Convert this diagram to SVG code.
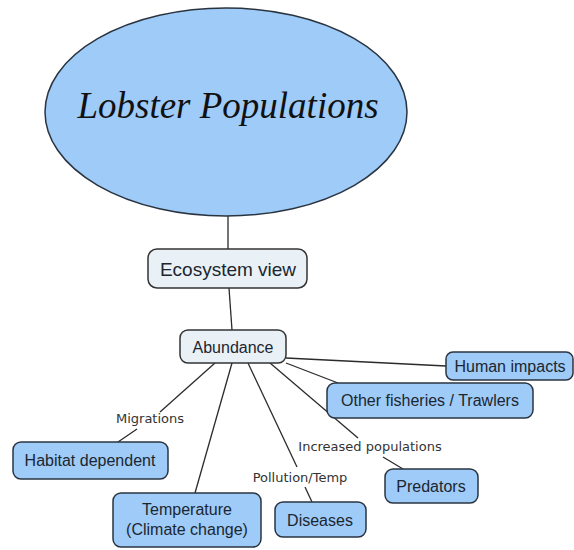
<svg xmlns="http://www.w3.org/2000/svg" width="574" height="550" viewBox="0 0 574 550">
<style>
.lnk{stroke:#2b2b2b;stroke-width:1.3;fill:none}
.pale{fill:#e9f1f6;stroke:#333;stroke-width:1.5}
.blue{fill:#9ecbf8;stroke:#2a3440;stroke-width:1.5}
.t{font-family:"Liberation Sans",Arial,sans-serif;fill:#1c2630;text-anchor:middle}
.lab{font-family:"DejaVu Sans","Liberation Sans",sans-serif;font-size:13px;fill:#333;text-anchor:middle}
</style>
<rect width="574" height="550" fill="#ffffff"/>
<g id="connectors">
<line class="lnk" x1="228" y1="216" x2="228" y2="249"/>
<line class="lnk" x1="229" y1="288" x2="232" y2="330"/>
<line class="lnk" x1="286" y1="358" x2="446" y2="366"/>
<line class="lnk" x1="286" y1="363" x2="338" y2="383"/>
<line class="lnk" x1="270" y1="363" x2="358" y2="438"/>
<line class="lnk" x1="383" y1="457" x2="403" y2="469"/>
<line class="lnk" x1="248" y1="363" x2="297" y2="467"/>
<line class="lnk" x1="305" y1="487" x2="312" y2="502"/>
<line class="lnk" x1="232" y1="363" x2="195" y2="493"/>
<line class="lnk" x1="215" y1="363" x2="160" y2="412"/>
<line class="lnk" x1="137" y1="429" x2="118" y2="442"/>
<text class="lab" x="150" y="423">Migrations</text>
<text class="lab" x="370" y="451">Increased populations</text>
<text class="lab" x="300" y="482">Pollution/Temp</text>
</g>
<g id="lobster">
<ellipse cx="226" cy="112" rx="181" ry="104" fill="#9ecbf8" stroke="#2a3440" stroke-width="1.5"/>
<text x="228" y="118" text-anchor="middle" font-family="'Liberation Serif',serif" font-style="italic" font-size="37" fill="#111">Lobster Populations</text>
</g>
<g id="ecosystem">
<rect class="pale" x="148" y="249" width="159" height="39" rx="9"/>
<text class="t" x="228" y="276" font-size="19">Ecosystem view</text>
</g>
<g id="abundance">
<rect class="pale" x="180" y="330" width="106" height="33" rx="8"/>
<text class="t" x="233" y="353" font-size="16">Abundance</text>
</g>
<g id="human">
<rect class="blue" x="446" y="352" width="127" height="28" rx="7"/>
<text class="t" x="510" y="372" font-size="16">Human impacts</text>
</g>
<g id="fisheries">
<rect class="blue" x="327" y="383" width="206" height="35" rx="8"/>
<text class="t" x="430" y="406" font-size="16">Other fisheries / Trawlers</text>
</g>
<g id="predators">
<rect class="blue" x="385" y="469" width="93" height="34" rx="8"/>
<text class="t" x="431" y="492" font-size="16">Predators</text>
</g>
<g id="diseases">
<rect class="blue" x="275" y="502" width="91" height="35" rx="8"/>
<text class="t" x="320" y="526" font-size="16">Diseases</text>
</g>
<g id="temperature">
<rect class="blue" x="113" y="493" width="148" height="54" rx="8"/>
<text class="t" x="187" y="515" font-size="16">Temperature</text>
<text class="t" x="187" y="535" font-size="16">(Climate change)</text>
</g>
<g id="habitat">
<rect class="blue" x="13" y="442" width="155" height="37" rx="8"/>
<text class="t" x="90" y="466" font-size="16">Habitat dependent</text>
</g>
</svg>
